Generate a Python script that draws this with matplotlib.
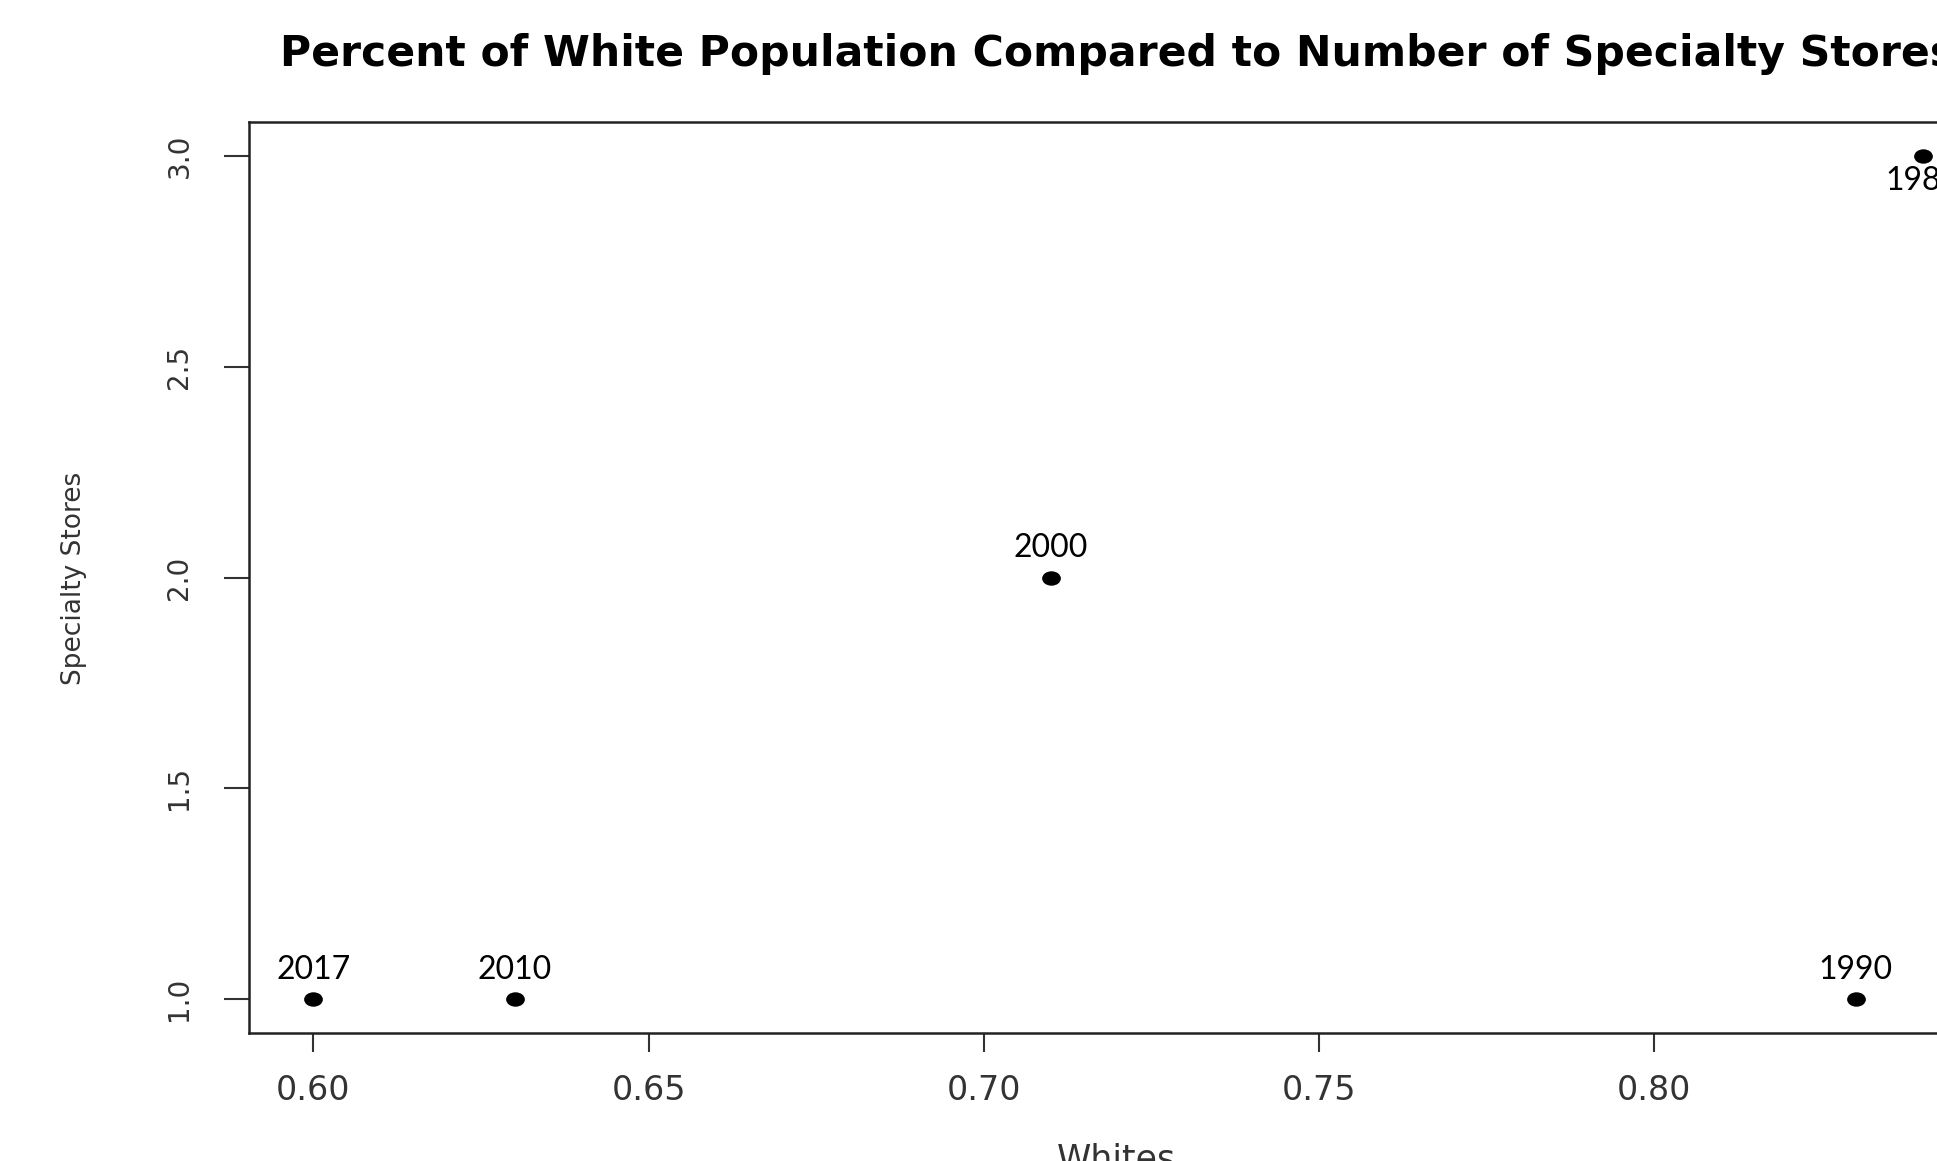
import matplotlib
matplotlib.use("Agg")
import matplotlib.pyplot as plt
import numpy as np
from matplotlib.path import Path
from matplotlib.transforms import Affine2D

# data
years = ["1980", "1990", "2000", "2010", "2017"]
whites = [0.84, 0.83, 0.71, 0.63, 0.60]
stores = [3, 1, 2, 1, 1]
label_below = [True, False, False, False, False]

W, H = 1937, 1161
DPI = 100
fig = plt.figure(figsize=(W / DPI, H / DPI), dpi=DPI)

# R-style 4% axis padding
xmin, xmax = min(whites), max(whites)
ymin, ymax = min(stores), max(stores)
xpad = 0.04 * (xmax - xmin)
ypad = 0.04 * (ymax - ymin)
xlim = (xmin - xpad, xmax + xpad)
ylim = (ymin - ypad, ymax + ypad)

# plot region in pixels (the right part falls off the picture, as in the reference)
left, top, bottom = 249, 122, 1033
right = 1987
ax = fig.add_axes([left / W, 1 - bottom / H, (right - left) / W, (bottom - top) / H])
ax.set_xlim(*xlim)
ax.set_ylim(*ylim)

# slightly wide elliptic dot like the stretched R pch=19
dot = Path.unit_circle().transformed(Affine2D().scale(1.3, 1.0))
ax.plot(whites, stores, linestyle="none", marker=dot, markersize=13.5,
        color="black", markeredgewidth=0)

for yr, xv, yv, below in zip(years, whites, stores, label_below):
    off = -18 if below else 21
    ax.annotate(yr, (xv, yv), xytext=(0, off), textcoords="offset points",
                ha="center", va="center", fontsize=23, family="Lato",
                color="black")

ax.set_xticks([0.60, 0.65, 0.70, 0.75, 0.80])
ax.set_xticklabels(["0.60", "0.65", "0.70", "0.75", "0.80"])
ax.set_yticks([1.0, 1.5, 2.0, 2.5, 3.0])
ax.set_yticklabels(["1.0", "1.5", "2.0", "2.5", "3.0"], rotation=90, va="center")

ax.tick_params(axis="x", length=13.5, width=1.5, pad=16, labelsize=24,
               colors="#333333")
ax.tick_params(axis="y", length=18, width=1.5, pad=22, labelsize=20,
               colors="#333333")
for sp in ax.spines.values():
    sp.set_linewidth(1.8)
    sp.set_color("#222222")

# axis titles
fig.text(74 / W, 1 - 578 / H, "Specialty Stores", rotation=90, ha="center",
         va="center", fontsize=19, color="#333333")
fig.text(1116 / W, 1 - 1143 / H, "Whites", ha="center", va="top",
         fontsize=25, color="#333333")

# main title, sized so it spans the same width as in the reference
title = "Percent of White Population Compared to Number of Specialty Stores"
t = fig.text((left + right) / 2 / W, 1 - 54 / H, title, ha="center",
             va="center", fontsize=30, fontweight="bold", color="black")
fig.canvas.draw()
tw = t.get_window_extent().width
t.set_fontsize(30 * 1672 / tw)

fig.savefig("out.png", dpi=DPI)
